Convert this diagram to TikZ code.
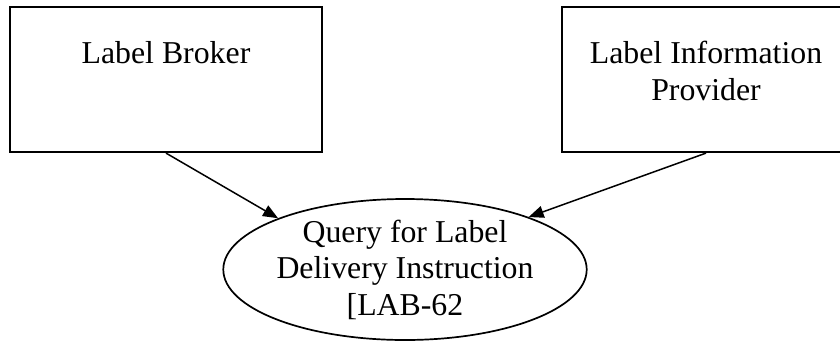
\documentclass[tikz,border=0pt]{standalone}
\usepackage{fontspec}
\setmainfont{Liberation Serif}
\usetikzlibrary{arrows.meta,shapes.geometric}
\begin{document}
\begin{tikzpicture}[x=1pt,y=-1pt,
  box/.style={draw,line width=2.2pt,rectangle,inner sep=0pt},
  txt/.style={font=\fontsize{31.8}{36.5}\selectfont,align=center,inner sep=0pt},
  oval/.style={draw,ellipse,line width=1.7pt,inner sep=0pt,minimum width=360pt,minimum height=141pt,font=\fontsize{31.8}{36.5}\selectfont,align=center},
  conn/.style={line width=1.5pt,-{Triangle[length=15pt,width=12pt]}}]
\useasboundingbox (0,0) rectangle (840,341);
\node[box,minimum width=312.5pt,minimum height=145pt] (lb) at (166,79.5) {};
\node[txt,anchor=base] (lbt) at (166,63) {Label Broker};
\node[box,minimum width=288pt,minimum height=145pt] (rp) at (706,79.5) {};
\node[txt,anchor=base] (rpt) at (706,100) {Label Information\\Provider};
\node[oval] (q) at (405,269.5) {Query for Label\\Delivery Instruction\\{[}LAB-62};
\draw[conn] (lb.south) -- (q.158.6);
\draw[conn] (rp.south) -- (q.23.3);
\end{tikzpicture}
\end{document}
